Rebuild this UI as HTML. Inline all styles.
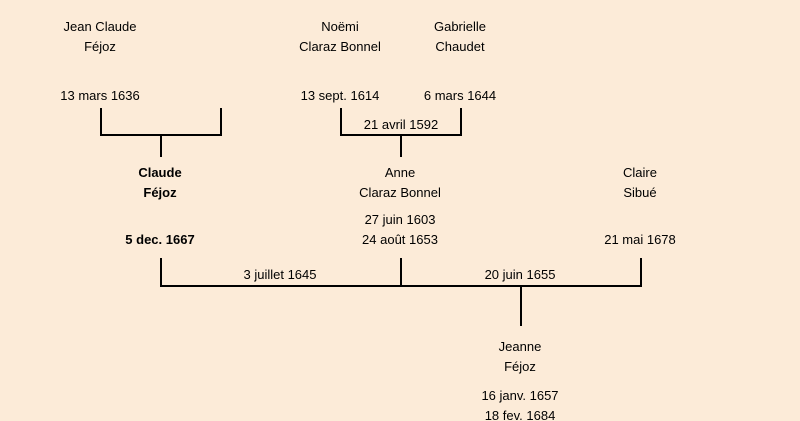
<!DOCTYPE html>
<html><head><meta charset="utf-8"><style>
html,body{margin:0;width:800px;height:421px;overflow:hidden}
body{background:#fcebd8;position:relative;font-family:"Liberation Sans","DejaVu Sans",sans-serif;font-size:13px;color:#000}
.t{position:absolute;width:200px;margin-left:-100px;text-align:center;line-height:20px;white-space:nowrap}
.b{font-weight:bold}
svg{position:absolute;left:0;top:0}
</style></head><body>
<svg width="800" height="421"><g stroke="#000" stroke-width="2" fill="none">
<path d="M101 108V135H221V108M161 135V157"/>
<path d="M341 108V135H461V108M401 135V157"/>
<path d="M161 258V286H641V258M401 258V286M521 286V326"/>
</g></svg>
<div class="t" style="left:100px;top:17px">Jean Claude<br>Féjoz</div>
<div class="t" style="left:100px;top:86px">13 mars 1636</div>
<div class="t" style="left:340px;top:17px">Noëmi<br>Claraz Bonnel</div>
<div class="t" style="left:340px;top:86px">13 sept. 1614</div>
<div class="t" style="left:460px;top:17px">Gabrielle<br>Chaudet</div>
<div class="t" style="left:460px;top:86px">6 mars 1644</div>
<div class="t" style="left:401px;top:115px">21 avril 1592</div>
<div class="t b" style="left:160px;top:163px">Claude<br>Féjoz</div>
<div class="t b" style="left:160px;top:230px">5 dec. 1667</div>
<div class="t" style="left:400px;top:163px">Anne<br>Claraz Bonnel</div>
<div class="t" style="left:400px;top:210px">27 juin 1603<br>24 août 1653</div>
<div class="t" style="left:640px;top:163px">Claire<br>Sibué</div>
<div class="t" style="left:640px;top:230px">21 mai 1678</div>
<div class="t" style="left:280px;top:265px">3 juillet 1645</div>
<div class="t" style="left:520px;top:265px">20 juin 1655</div>
<div class="t" style="left:520px;top:337px">Jeanne<br>Féjoz</div>
<div class="t" style="left:520px;top:386px">16 janv. 1657<br>18 fev. 1684</div>
</body></html>
